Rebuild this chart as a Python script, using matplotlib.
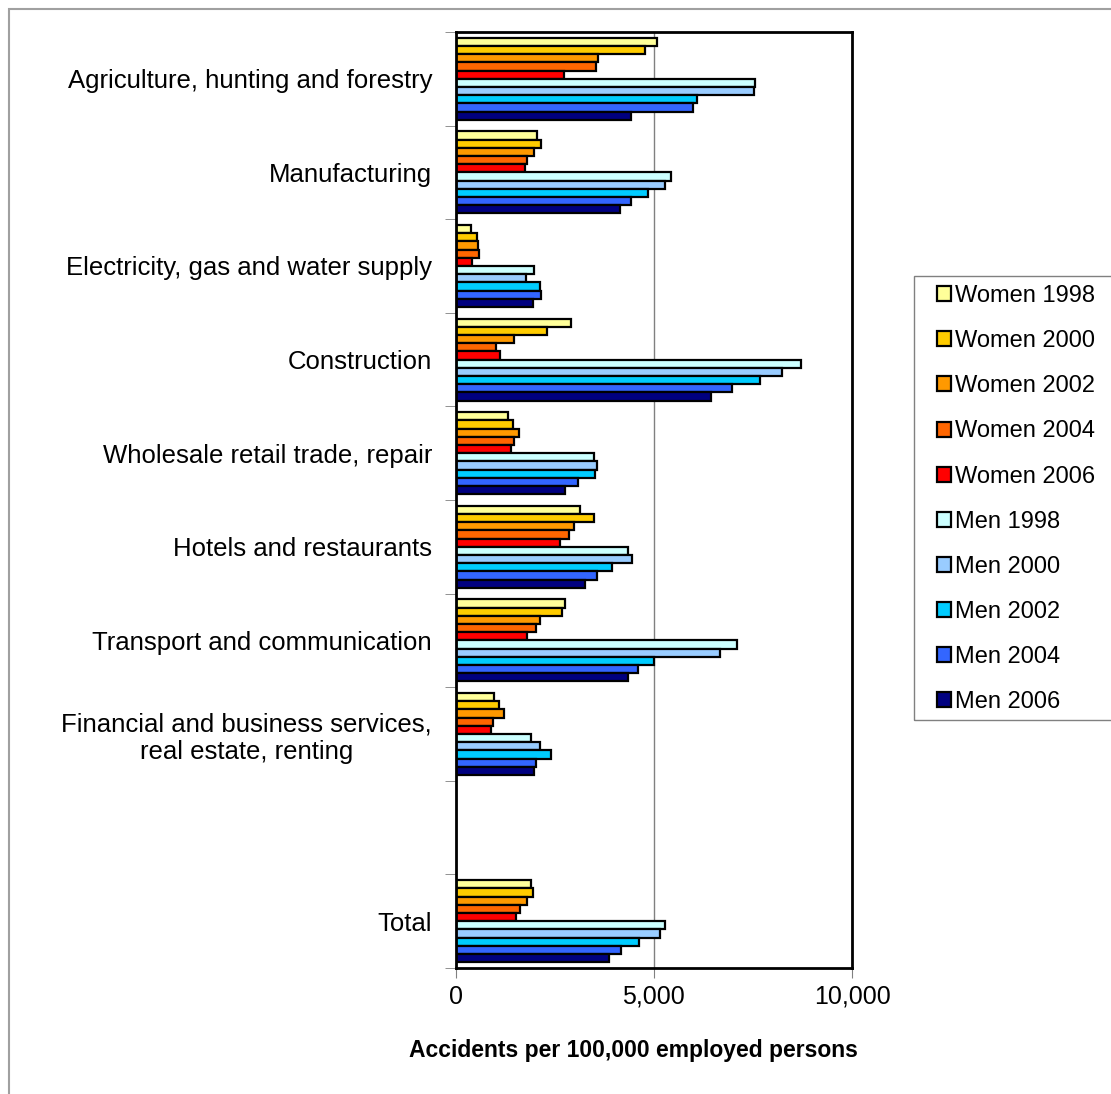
import numpy as np
import matplotlib
matplotlib.use('Agg')
import matplotlib.pyplot as plt
from matplotlib.patches import Rectangle

plt.rcParams['font.family'] = ['Liberation Sans', 'DejaVu Sans']

# categories, top to bottom (empty slot before Total)
categories = ['Agriculture, hunting and forestry',
              'Manufacturing',
              'Electricity, gas and water supply',
              'Construction',
              'Wholesale retail trade, repair',
              'Hotels and restaurants',
              'Transport and communication',
              'Financial and business services,\nreal estate, renting',
              '',
              'Total']

series = ['Women 1998', 'Women 2000', 'Women 2002', 'Women 2004', 'Women 2006',
          'Men 1998', 'Men 2000', 'Men 2002', 'Men 2004', 'Men 2006']

# accidents per 100,000 employed persons (None = empty slot)
women_1998 = [5070, 2050, 380, 2920, 1330, 3140, 2760, 960, None, 1900]
women_2000 = [4780, 2140, 550, 2300, 1450, 3480, 2680, 1090, None, 1950]
women_2002 = [3600, 1980, 570, 1480, 1590, 2980, 2130, 1210, None, 1800]
women_2004 = [3530, 1810, 600, 1020, 1470, 2860, 2030, 940, None, 1620]
women_2006 = [2740, 1760, 420, 1110, 1400, 2630, 1810, 890, None, 1520]
men_1998 = [7560, 5430, 1970, 8710, 3490, 4360, 7110, 1900, None, 5280]
men_2000 = [7520, 5290, 1770, 8230, 3570, 4450, 6660, 2130, None, 5150]
men_2002 = [6080, 4860, 2120, 7670, 3510, 3950, 5010, 2410, None, 4620]
men_2004 = [5990, 4430, 2160, 6980, 3080, 3560, 4590, 2020, None, 4180]
men_2006 = [4430, 4140, 1950, 6430, 2750, 3260, 4360, 1980, None, 3860]

colors = ['#FFFF99', '#FFCC00', '#FF9900', '#FF6600', '#FF0000',
          '#CCFFFF', '#99CCFF', '#00CCFF', '#3366FF', '#000080']

values = [women_1998, women_2000, women_2002, women_2004, women_2006,
          men_1998, men_2000, men_2002, men_2004, men_2006]

W, H = 1111, 1094
fig = plt.figure(figsize=(W / 100, H / 100), dpi=100)
ax = fig.add_axes([455.7 / W, 1 - 968 / H, (852 - 455.7) / W, (968 - 32) / H])

n = len(series)
h = 0.0876
pos = np.arange(len(categories))
for i in range(n):
    v = np.array([np.nan if x is None else x for x in values[i]], dtype=float)
    ax.barh(pos + (i - (n - 1) / 2) * h, v, height=h, color=colors[i],
            edgecolor='black', linewidth=1.6, label=series[i], zorder=3)

ax.set_xlim(0, 10000)
ax.set_ylim(len(categories) - 0.5, -0.5)

ax.set_xticks([0, 5000, 10000])
ax.set_xticklabels(['0', '5,000', '10,000'], fontsize=18)
ax.tick_params(axis='x', direction='out', length=7, color='#808080', pad=5)
ax.grid(axis='x', color='#808080', linewidth=1, zorder=0)

ax.set_yticks(pos)
ax.set_yticklabels(categories, fontsize=18.5)
for lbl in ax.get_yticklabels():
    lbl.set_multialignment('center')
ax.set_yticks(np.arange(len(categories) + 1) - 0.5, minor=True)
ax.tick_params(axis='y', which='major', length=0, pad=17)
ax.tick_params(axis='y', which='minor', direction='out', length=8, color='#808080')

for s in ax.spines.values():
    s.set_linewidth(2)
    s.set_color('black')
    s.set_zorder(4)

fig.text(633.5 / W, 1 - 1050 / H, 'Accidents per 100,000 employed persons',
         ha='center', va='center', fontsize=16.5, fontweight='bold')

# legend box runs off the right edge like in the source
fig.patches.append(Rectangle((914 / W, 1 - 720 / H), 0.2, (720 - 276) / H,
                             transform=fig.transFigure, fill=False,
                             edgecolor='#808080', linewidth=1))
fig.legend(loc='upper left', bbox_to_anchor=(937 / W, 1 - 285 / H),
           frameon=False, fontsize=17, handlelength=0.6, handleheight=0.6,
           handletextpad=0.15, labelspacing=0.98, borderaxespad=0, borderpad=0)

# outer grey border of the chart
fig.patches.append(Rectangle((9 / W, -0.1), 1.0, 1.1 - 8.5 / H,
                             transform=fig.transFigure, fill=False,
                             edgecolor='#A0A0A0', linewidth=1.5))

fig.savefig('out.png', dpi=100)
